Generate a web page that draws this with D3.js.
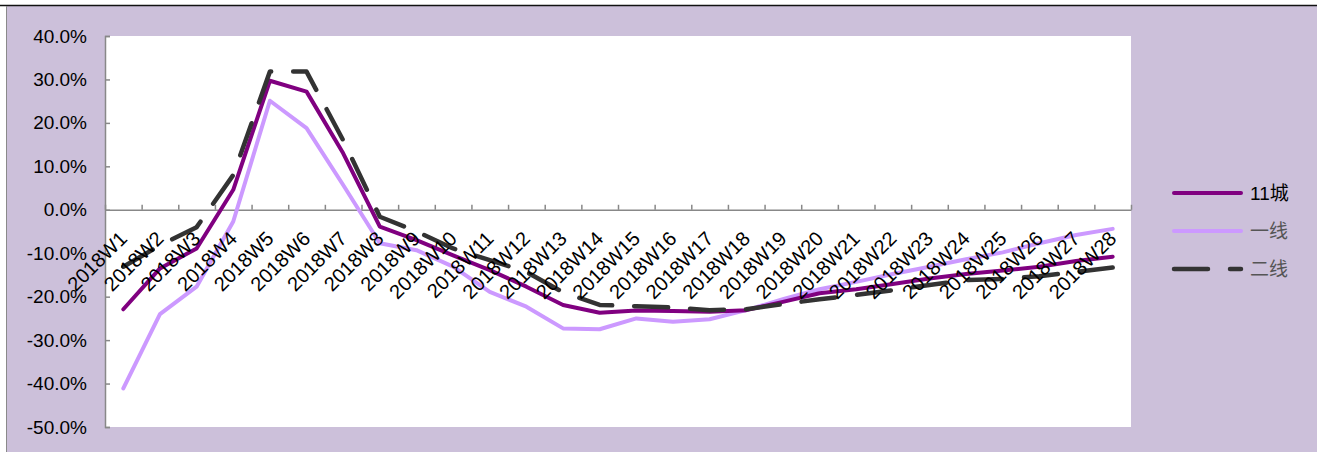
<!DOCTYPE html>
<html>
<head>
<meta charset="utf-8">
<script src="https://d3js.org/d3.v7.min.js"></script>
<style>
  body { margin: 0; background: #FFF; }
  svg { display: block; font-family: "Liberation Sans", Arial, "Noto Sans CJK SC", sans-serif; }
</style>
</head>
<body>
<script>
// week categories
var weeks = ["2018W1","2018W2","2018W3","2018W4","2018W5","2018W6","2018W7","2018W8","2018W9","2018W10",
             "2018W11","2018W12","2018W13","2018W14","2018W15","2018W16","2018W17","2018W18","2018W19","2018W20",
             "2018W21","2018W22","2018W23","2018W24","2018W25","2018W26","2018W27","2018W28"];

// values in %
var city11 = [-22.9,-13.5,-8.9,4.6,29.7,27.2,13.0,-3.9,-7.0,-10.5,-13.9,-17.7,-21.9,-23.7,
              -23.2,-23.3,-23.5,-23.1,-21.2,-19.2,-18.3,-17.1,-15.8,-14.8,-14.0,-13.1,-11.8,-10.8];
var tier1  = [-41.1,-24.0,-17.7,-2.7,25.1,18.8,5.7,-7.7,-9.3,-13.1,-18.9,-22.3,-27.3,-27.5,
              -25.0,-25.8,-25.2,-23.1,-20.6,-18.3,-16.6,-14.8,-13.1,-11.4,-9.8,-7.7,-5.8,-4.4];
var tier2  = [-13.1,-8.2,-4.0,8.0,31.8,31.8,16.0,-1.6,-5.0,-8.9,-11.6,-14.3,-19.0,-21.9,
              -22.2,-22.5,-23.1,-22.9,-21.7,-20.6,-19.6,-18.5,-17.3,-16.2,-15.9,-15.3,-14.3,-13.3];

var yTicks = [-50,-40,-30,-20,-10,0,10,20,30,40];

var seriesNames = ["11城","一线","二线"];

var W = 1317, H = 452;
var plot = { left: 105, right: 1131, top: 36, bottom: 427 };

var svg = d3.select('body').append('svg').attr('width', W).attr('height', H);

// frame
svg.append('rect').attr('x', 7).attr('y', 6).attr('width', W - 7).attr('height', H - 6).attr('fill', '#CCC0DA');
svg.append('line').attr('x1', 0).attr('x2', W).attr('y1', 5.5).attr('y2', 5.5).attr('stroke', '#111').attr('stroke-width', 1.5);
svg.append('line').attr('x1', 6.5).attr('x2', 6.5).attr('y1', 6).attr('y2', H).attr('stroke', '#8a8a8a').attr('stroke-width', 1);

svg.append('rect')
  .attr('x', plot.left).attr('y', plot.top)
  .attr('width', plot.right - plot.left).attr('height', plot.bottom - plot.top)
  .attr('fill', '#FFF');

var x = d3.scaleBand().domain(weeks).range([plot.left, plot.right]).padding(0);
var xEdge = d3.scaleLinear().domain([0, weeks.length]).range([plot.left, plot.right]);
var y = d3.scaleLinear().domain([-50, 40]).range([plot.bottom, plot.top]);

function cx(i) { return x(weeks[i]) + x.bandwidth() / 2; }

// y axis
var yAxis = svg.append('g')
  .attr('transform', 'translate(' + plot.left + ',0)')
  .call(d3.axisLeft(y).tickValues(yTicks).tickSize(-5).tickPadding(18)
        .tickFormat(function(d){ return d.toFixed(1) + '%'; }));
yAxis.select('.domain').attr('stroke', '#888').attr('stroke-width', 1.5);
yAxis.selectAll('.tick line').attr('stroke', '#888').attr('stroke-width', 1.5);
yAxis.selectAll('.tick text').attr('font-size', 19).attr('fill', '#000').attr('font-family', '"Liberation Sans", Arial, sans-serif');

// x axis at zero
var xAxis = svg.append('g')
  .attr('transform', 'translate(0,' + y(0) + ')')
  .call(d3.axisTop(xEdge).tickValues(d3.range(weeks.length + 1)).tickSize(5).tickSizeOuter(0).tickFormat(''));
xAxis.select('.domain').attr('stroke', '#888').attr('stroke-width', 1.5);
xAxis.selectAll('.tick line').attr('stroke', '#888').attr('stroke-width', 1.5);

// series lines
var line = d3.line().x(function(d, i){ return cx(i); }).y(function(d){ return y(d); });

var styles = [
  { data: city11, color: '#800080', width: 4, dash: null },
  { data: tier1,  color: '#CC99FF', width: 4, dash: null },
  { data: tier2,  color: '#333333', width: 4.5, dash: '34,22' }
];

// draw order: tier1 underneath, then 11城, then tier2
[1, 0, 2].forEach(function(k){
  var s = styles[k];
  svg.append('path')
    .datum(s.data)
    .attr('d', line)
    .attr('fill', 'none')
    .attr('stroke', s.color)
    .attr('stroke-width', s.width)
    .attr('stroke-linejoin', 'round')
    .attr('stroke-linecap', 'round')
    .attr('stroke-dasharray', s.dash);
});

// category labels
svg.append('g').selectAll('text')
  .data(weeks)
  .enter().append('text')
  .attr('transform', function(d, i){ return 'translate(' + (cx(i) + 5) + ',' + (y(0) + 30) + ') rotate(-45)'; })
  .attr('text-anchor', 'end')
  .attr('font-size', 20)
  .attr('fill', '#000')
  .text(function(d){ return d; });

// legend
var legend = svg.append('g').selectAll('g')
  .data(styles)
  .enter().append('g')
  .attr('transform', function(d, i){ return 'translate(1174,' + (193 + i * 38) + ')'; });

legend.append('line')
  .attr('x1', 0).attr('x2', 67).attr('y1', 0).attr('y2', 0)
  .attr('stroke', function(d){ return d.color; })
  .attr('stroke-width', function(d){ return d.width; })
  .attr('stroke-linecap', 'round')
  .attr('stroke-dasharray', function(d){ return d.dash; });

legend.append('text')
  .attr('x', 76).attr('y', 7)
  .attr('font-size', 19)
  .attr('fill', function(d, i){ return i === 0 ? '#000' : '#555'; })
  .text(function(d, i){ return seriesNames[i]; });
</script>
</body>
</html>
